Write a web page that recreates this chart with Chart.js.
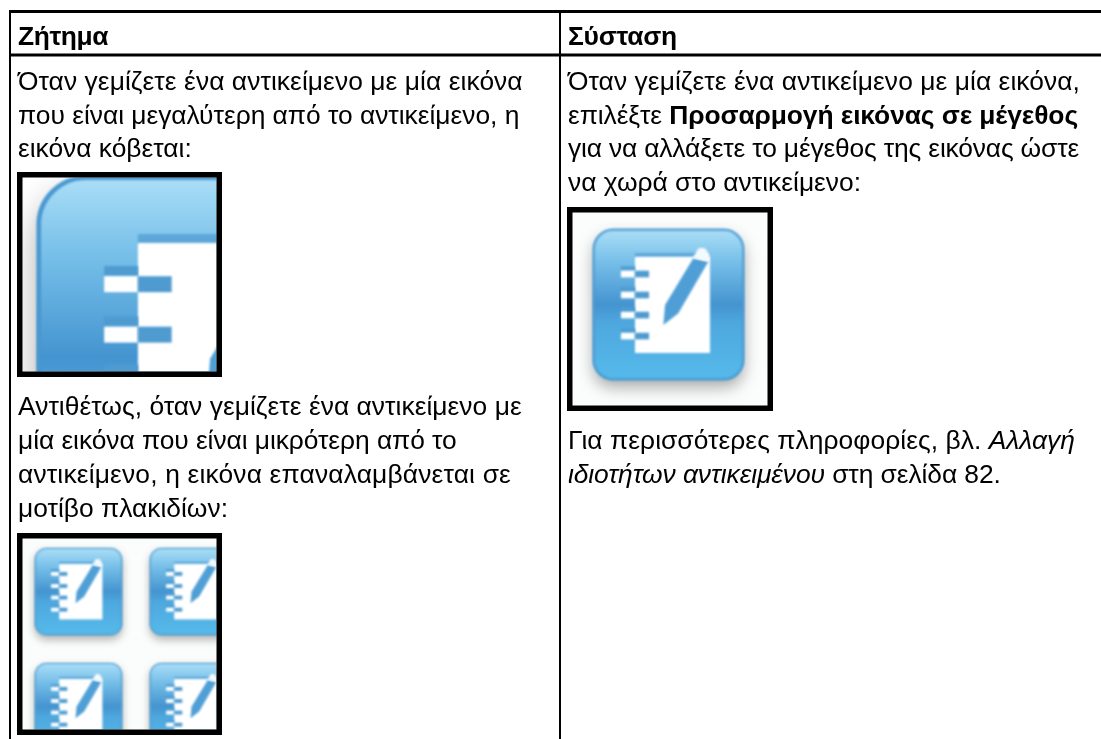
<!DOCTYPE html>
<html>
<head>
<meta charset="utf-8">
<title>Ζήτημα / Σύσταση</title>
<script src="https://cdn.jsdelivr.net/npm/chart.js@4"></script>
<style>
  html, body { margin: 0; padding: 0; background: #fff; }
  canvas { display: block; }
</style>
</head>
<body>
<canvas id="tableChart" width="1101" height="739"></canvas>
<script>
// The picture is a two column table, not a plot. The axes run in page units
// and the table rules, texts and icons are all placed through them.
const headers = ["Ζήτημα", "Σύσταση"];
const leftLines = [
  "Όταν γεμίζετε ένα αντικείμενο με μία εικόνα",
  "που είναι μεγαλύτερη από το αντικείμενο, η",
  "εικόνα κόβεται:",
  "Αντιθέτως, όταν γεμίζετε ένα αντικείμενο με",
  "μία εικόνα που είναι μικρότερη από το",
  "αντικείμενο, η εικόνα επαναλαμβάνεται σε",
  "μοτίβο πλακιδίων:"
];
const rightLines = [
  ["Όταν γεμίζετε ένα αντικείμενο με μία εικόνα,"],
  ["επιλέξτε ", "Προσαρμογή εικόνας σε μέγεθος"],
  ["για να αλλάξετε το μέγεθος της εικόνας ώστε"],
  ["να χωρά στο αντικείμενο:"],
  ["Για περισσότερες πληροφορίες, βλ. ", "Αλλαγή"],
  ["ιδιοτήτων αντικειμένου", " στη σελίδα 82."]
];

// layout, in axis units
const leftBaselines = [89.5, 123.5, 157, 415, 449, 483, 517];
const rightBaselines = [89.5, 123.5, 157, 191, 448.5, 482.5];
const headerEnds = [108, 677];
const leftEnds = [522.7, 519.3, 191.7, 521.7, 456.7, 511, 228];
const rightEnds = [1080, 1078, 1079, 861, 1075, 1000.7];
const rightStyles = [
  ["normal"],
  ["normal", "bold"],
  ["normal"],
  ["normal"],
  ["normal", "italic"],
  ["italic", "normal"]
];
const columnX = [18, 568];
const headerBaseline = 45;
const fontPx = 26.4;
const ruleX = [10, 560];
const ruleY = [11.5, 55];
const pageRight = 1101;
const pageBottom = 739;

function ruleDataset(points, width) {
  return {
    data: points,
    showLine: true,
    borderColor: "#000",
    borderWidth: width,
    pointRadius: 0,
    clip: false
  };
}

const ruleSets = [
  ruleDataset([{ x: ruleX[0] - 1, y: ruleY[0] }, { x: pageRight, y: ruleY[0] }], 3),
  ruleDataset([{ x: ruleX[0], y: ruleY[1] }, { x: pageRight, y: ruleY[1] }], 3),
  ruleDataset([{ x: ruleX[0], y: ruleY[0] }, { x: ruleX[0], y: pageBottom }], 2),
  ruleDataset([{ x: ruleX[1], y: ruleY[0] }, { x: ruleX[1], y: pageBottom }], 2)
];

// one icon, in units of its own size
function drawIcon(ctx, x, y, s) {
  ctx.save();
  ctx.translate(x, y);
  ctx.scale(s, s);
  const grad = ctx.createLinearGradient(0, 0, 0, 1);
  grad.addColorStop(0, "#acdff7");
  grad.addColorStop(0.22, "#76bfe9");
  grad.addColorStop(0.5, "#4494d0");
  grad.addColorStop(0.62, "#4ea8de");
  grad.addColorStop(1, "#56baeb");
  ctx.save();
  ctx.shadowColor = "rgba(0,0,0,0.32)";
  ctx.shadowBlur = 0.1 * s;
  ctx.shadowOffsetY = 0.05 * s;
  ctx.beginPath();
  ctx.roundRect(0, 0, 1, 1, 0.13);
  ctx.fillStyle = grad;
  ctx.fill();
  ctx.restore();
  ctx.beginPath();
  ctx.roundRect(0.005, 0.005, 0.99, 0.99, 0.13);
  ctx.strokeStyle = "#4a97cf";
  ctx.lineWidth = 0.012;
  ctx.stroke();

  // page, with its darker band on top
  ctx.fillStyle = "#5ea6d8";
  ctx.fillRect(0.278, 0.16, 0.497, 0.025);
  ctx.fillStyle = "#fff";
  ctx.fillRect(0.278, 0.185, 0.497, 0.636);

  // spiral rings
  [0.298, 0.437, 0.57, 0.709].forEach(r => {
    ctx.fillStyle = "#4f9bd0";
    ctx.fillRect(0.185, r - 0.05, 0.093, 0.027);
    ctx.fillStyle = "#fff";
    ctx.fillRect(0.185, r - 0.022, 0.093, 0.044);
    ctx.fillStyle = "#4f9bd0";
    ctx.fillRect(0.278, r - 0.022, 0.093, 0.044);
  });

  // pen
  ctx.fillStyle = "#4f9fd6";
  ctx.beginPath();
  ctx.moveTo(0.664, 0.194);
  ctx.lineTo(0.764, 0.216);
  ctx.lineTo(0.565, 0.558);
  ctx.lineTo(0.466, 0.636);
  ctx.lineTo(0.477, 0.503);
  ctx.closePath();
  ctx.fill();
  ctx.fillStyle = "#f4fafd";
  ctx.beginPath();
  ctx.moveTo(0.66, 0.19);
  ctx.lineTo(0.7, 0.125);
  ctx.lineTo(0.74, 0.125);
  ctx.lineTo(0.775, 0.17);
  ctx.lineTo(0.764, 0.216);
  ctx.closePath();
  ctx.fill();
  ctx.restore();
}

// framed pictures: outer box, background, icons as [x, y, size]
const pictures = [
  { box: [17, 172, 222, 377], bg: "#fff", icons: [[37, 176, 363]] },
  { box: [567, 207, 773, 411], bg: "#fbfdfd", icons: [[593, 229, 151]] },
  { box: [17, 533, 222, 735], bg: "#fbfdfd", icons: [[35, 548, 87], [150, 548, 87], [35, 663, 87], [150, 663, 87]] }
];

const face = '"Liberation Sans", Arial, sans-serif';

function fontFor(style) {
  return `${style === "normal" ? "" : style + " "}${fontPx}px ${face}`;
}

// writes one line of runs, spaced so that it ends where the reference line ends
function drawLine(ctx, runs, styles, x, end, y) {
  ctx.letterSpacing = "0px";
  let natural = 0;
  let count = 0;
  runs.forEach((t, j) => {
    ctx.font = fontFor(styles[j]);
    natural += ctx.measureText(t).width;
    count += t.length;
  });
  ctx.letterSpacing = ((end - x - natural) / count).toFixed(3) + "px";
  runs.forEach((t, j) => {
    ctx.font = fontFor(styles[j]);
    ctx.fillText(t, x, y);
    x += ctx.measureText(t).width;
  });
}

const tablePlugin = {
  id: "tableContent",
  afterDatasetsDraw(chart) {
    const ctx = chart.ctx;
    const sx = chart.scales.x, sy = chart.scales.y;

    ctx.save();
    ctx.textBaseline = "alphabetic";
    ctx.fillStyle = "#000";
    headers.forEach((h, i) => {
      drawLine(ctx, [h], ["bold"], sx.getPixelForValue(columnX[i]),
        sx.getPixelForValue(headerEnds[i]), sy.getPixelForValue(headerBaseline));
    });
    leftLines.forEach((t, i) => {
      drawLine(ctx, [t], ["normal"], sx.getPixelForValue(columnX[0]),
        sx.getPixelForValue(leftEnds[i]), sy.getPixelForValue(leftBaselines[i]));
    });
    rightLines.forEach((runs, i) => {
      drawLine(ctx, runs, rightStyles[i], sx.getPixelForValue(columnX[1]),
        sx.getPixelForValue(rightEnds[i]), sy.getPixelForValue(rightBaselines[i]));
    });
    ctx.restore();

    pictures.forEach(p => {
      const x0 = sx.getPixelForValue(p.box[0]), y0 = sy.getPixelForValue(p.box[1]);
      const x1 = sx.getPixelForValue(p.box[2]), y1 = sy.getPixelForValue(p.box[3]);
      const border = 5.5;
      ctx.save();
      ctx.filter = "blur(1px)";
      ctx.fillStyle = p.bg;
      ctx.fillRect(x0, y0, x1 - x0, y1 - y0);
      ctx.beginPath();
      ctx.rect(x0 + border, y0 + border, x1 - x0 - 2 * border, y1 - y0 - 2 * border);
      ctx.clip();
      p.icons.forEach(ic => {
        drawIcon(ctx, sx.getPixelForValue(ic[0]), sy.getPixelForValue(ic[1]), ic[2]);
      });
      ctx.restore();
      ctx.save();
      ctx.filter = "blur(0.6px)";
      ctx.strokeStyle = "#000";
      ctx.lineWidth = border;
      ctx.strokeRect(x0 + border / 2, y0 + border / 2, x1 - x0 - border, y1 - y0 - border);
      ctx.restore();
    });
  }
};

new Chart(document.getElementById("tableChart"), {
  type: "scatter",
  data: { datasets: ruleSets },
  options: {
    responsive: false,
    animation: false,
    layout: { padding: 0 },
    plugins: { legend: { display: false }, tooltip: { enabled: false } },
    scales: {
      x: { type: "linear", min: 0, max: pageRight, display: false },
      y: { type: "linear", min: 0, max: pageBottom, reverse: true, display: false }
    }
  },
  plugins: [tablePlugin]
});
</script>
</body>
</html>
